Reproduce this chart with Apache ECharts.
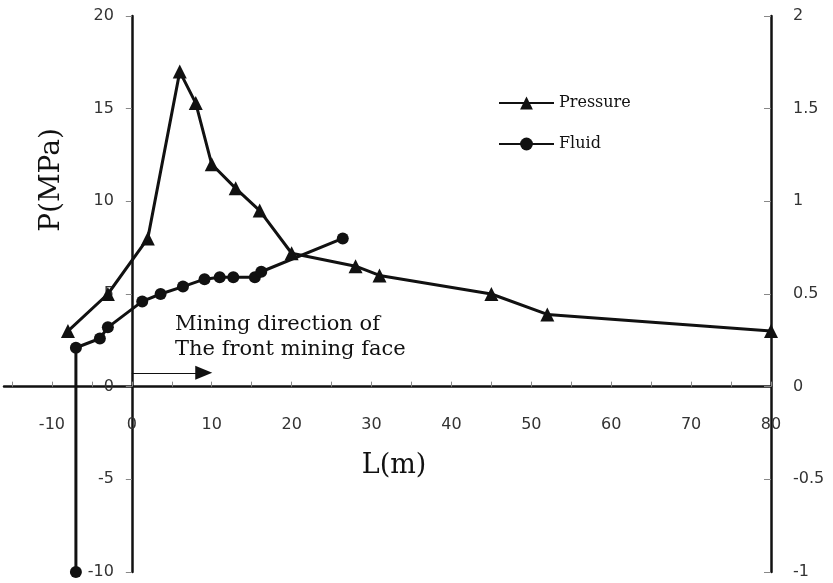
<!DOCTYPE html>
<html lang="en">
<head>
    <meta charset="UTF-8">
    <title>echarts</title>
    <script src="https://cdn.jsdelivr.net/npm/echarts@6/dist/echarts.min.js"></script>
    <style>
        html, body { margin: 0; padding: 0; background: #fff; }
    </style>
</head>
<body>
    <div id="charts1" style="width: 833px;height:583px;"></div>
    <script type="text/javascript">
        // Pressure: [L(m), P(MPa)] on the left axis
        var pressureL = [-8, -3, 2, 6, 8, 10, 13, 16, 20, 28, 31, 45, 52, 80];
        var pressureP = [3, 5, 8, 17, 15.3, 12, 10.7, 9.5, 7.2, 6.5, 6, 5, 3.9, 3];
        // Fluid: [L(m), value] on the right axis
        var fluidL = [-7, -7, -4, -3, 1.3, 3.6, 6.4, 9.1, 11, 12.7, 15.4, 16.2, 26.4];
        var fluidV = [-1, 0.21, 0.26, 0.32, 0.46, 0.50, 0.54, 0.58, 0.59, 0.59, 0.59, 0.62, 0.8];
        // tick labels
        var xLabels = [-10, 0, 10, 20, 30, 40, 50, 60, 70, 80];
        var xTicks = [-15, -10, -5, 0, 5, 10, 15, 20, 25, 30, 35, 40, 45, 50, 55, 60, 65, 70, 75, 80];

        var pressureData = pressureL.map(function (x, i) { return [x, pressureP[i]]; });
        var fluidData = fluidL.map(function (x, i) { return [x, fluidV[i]]; });

        // grid box in pixels; axes cross at L=0 / P=0, moved there with offset
        var gLeft = 4, gRight = 62, gTop = 16, gBottom = 11;
        var W = 833, H = 583, xMin = -16, xMax = 80;
        var plotW = W - gLeft - gRight, plotH = H - gTop - gBottom;
        var yAxisShift = (0 - xMin) / (xMax - xMin) * plotW;   // left axis to L=0
        var xAxisShift = plotH / 3;                              // x axis to P=0

        var tickFont = { fontFamily: 'DejaVu Sans', fontSize: 16, color: '#333' };
        var myChart = echarts.init(document.getElementById('charts1'));

        option = {
            backgroundColor: '#fff',
            animation: false,
            grid: { left: gLeft, right: gRight, top: gTop, bottom: gBottom, containLabel: false, outerBoundsMode: 'none' },
            legend: {
                orient: 'vertical',
                left: 498,
                top: 95,
                padding: 0,
                itemWidth: 55,
                itemHeight: 16,
                itemGap: 25,
                textStyle: { fontFamily: 'DejaVu Serif', fontSize: 16, color: '#111' },
                data: ['Pressure', 'Fluid']
            },
            xAxis: {
                type: 'value',
                min: xMin,
                max: xMax,
                offset: -xAxisShift,
                axisLine: { onZero: false, lineStyle: { color: '#111', width: 2.5 } },
                axisTick: { inside: true, length: 5, customValues: xTicks, lineStyle: { color: '#888', width: 1 } },
                axisLabel: Object.assign({ margin: 30, customValues: xLabels }, tickFont),
                splitLine: { show: false }
            },
            yAxis: [{
                type: 'value',
                min: -10,
                max: 20,
                interval: 5,
                offset: -yAxisShift,
                axisLine: { show: true, onZero: false, lineStyle: { color: '#111', width: 2.5 } },
                axisTick: { show: true, length: 6, lineStyle: { color: '#888', width: 1 } },
                axisLabel: Object.assign({ margin: 18 }, tickFont),
                splitLine: { show: false }
            }, {
                type: 'value',
                position: 'right',
                min: -1,
                max: 2,
                interval: 0.5,
                axisLine: { show: true, onZero: false, lineStyle: { color: '#111', width: 2.5 } },
                axisTick: { show: true, inside: true, length: 7, lineStyle: { color: '#888', width: 1 } },
                axisLabel: Object.assign({ margin: 22 }, tickFont),
                splitLine: { show: false }
            }],
            series: [{
                name: 'Pressure',
                type: 'line',
                yAxisIndex: 0,
                data: pressureData,
                symbol: 'triangle',
                symbolSize: 14,
                itemStyle: { color: '#111' },
                lineStyle: { color: '#111', width: 3 },
                markLine: {
                    silent: true,
                    symbol: ['none', 'triangle'],
                    symbolSize: [14, 17],
                    label: { show: false },
                    lineStyle: { color: '#111', width: 1, type: 'solid' },
                    data: [[{ coord: [0, 0.75] }, { coord: [9, 0.75] }]]
                }
            }, {
                name: 'Fluid',
                type: 'line',
                yAxisIndex: 1,
                data: fluidData,
                symbol: 'circle',
                symbolSize: 12,
                itemStyle: { color: '#111' },
                lineStyle: { color: '#111', width: 3 }
            }],
            graphic: [{
                type: 'text',
                left: 175,
                top: 312,
                style: {
                    text: 'Mining direction of\nThe front mining face',
                    fontFamily: 'DejaVu Serif',
                    fontSize: 21,
                    lineHeight: 25,
                    fill: '#111'
                }
            }, {
                type: 'text',
                x: 52,
                y: 180,
                rotation: Math.PI / 2,
                style: {
                    text: 'P(MPa)',
                    fontFamily: 'DejaVu Serif',
                    fontSize: 28,
                    fill: '#111',
                    align: 'center',
                    verticalAlign: 'middle'
                }
            }, {
                type: 'text',
                x: 394,
                y: 466,
                style: {
                    text: 'L(m)',
                    fontFamily: 'DejaVu Serif',
                    fontSize: 27,
                    fill: '#111',
                    align: 'center',
                    verticalAlign: 'middle'
                }
            }]
        };
        myChart.setOption(option);
    </script>
</body>
</html>
